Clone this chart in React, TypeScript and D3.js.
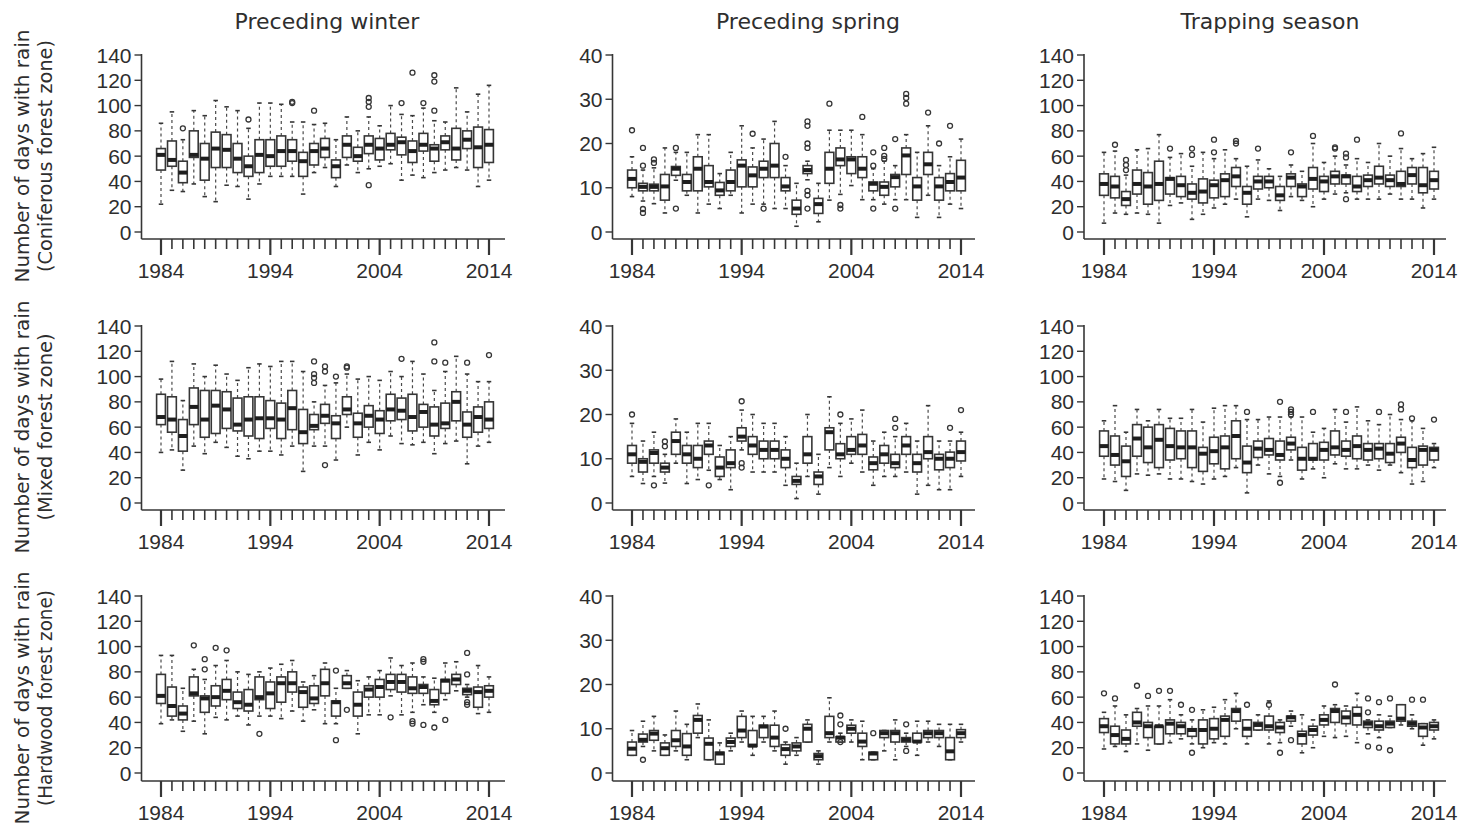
import React from 'react';
import * as d3 from 'd3';

// Box statistics per year: [lower whisker, Q1, median, Q3, upper whisker]
type Stat = [number, number, number, number, number];
// Outlying observations: [year, value]
type Outlier = [number, number];

const years = [
  1984, 1985, 1986, 1987, 1988, 1989, 1990, 1991, 1992, 1993, 1994,
  1995, 1996, 1997, 1998, 1999, 2000, 2001, 2002, 2003, 2004,
  2005, 2006, 2007, 2008, 2009, 2010, 2011, 2012, 2013, 2014,
];
const yearLabels = [1984, 1994, 2004, 2014];
const daysTicks = [0, 20, 40, 60, 80, 100, 120, 140];
const springTicks = [0, 10, 20, 30, 40];

const seasonTitles = ['Preceding winter', 'Preceding spring', 'Trapping season'];
const axisTitle = 'Number of days with rain';
const zoneNames = ['(Coniferous forest zone)', '(Mixed forest zone)', '(Hardwood forest zone)'];

// ---- Coniferous forest zone ----
const coniferousWinter: Stat[] = [
  [22, 49, 61, 66, 86], [33, 52, 57, 72, 95], [32, 39, 47, 56, 73], [38, 59, 61, 80, 96],
  [28, 41, 58, 70, 92], [24, 51, 66, 79, 104], [37, 51, 65, 77, 99], [36, 47, 58, 70, 96],
  [26, 44, 52, 60, 82], [38, 47, 61, 73, 102], [44, 52, 60, 73, 102], [44, 52, 64, 76, 101],
  [44, 56, 64, 73, 87], [30, 44, 56, 63, 87], [47, 53, 64, 70, 85], [51, 59, 66, 74, 86],
  [36, 43, 52, 57, 73], [53, 59, 69, 76, 91], [47, 56, 60, 67, 80], [50, 62, 69, 76, 91],
  [52, 57, 66, 74, 84], [54, 65, 69, 78, 100], [41, 61, 71, 75, 93], [45, 55, 64, 72, 92],
  [43, 64, 69, 78, 98], [47, 56, 66, 69, 88], [49, 65, 71, 76, 87], [51, 57, 66, 82, 114],
  [49, 66, 73, 80, 95], [36, 51, 67, 83, 109], [41, 55, 69, 81, 116],
];
const coniferousWinterOut: Outlier[] = [
  [1986, 82], [1992, 89], [1996, 102], [1996, 103], [1998, 96], [2003, 99], [2003, 103],
  [2003, 106], [2003, 37], [2006, 102], [2007, 126], [2008, 102], [2009, 96], [2009, 119],
  [2009, 124],
];
const coniferousSpring: Stat[] = [
  [8, 10, 12, 14, 17], [7, 9.3, 10.2, 11, 14], [6.4, 9.3, 10.2, 10.8, 14.5], [4.3, 7.2, 10.3, 13, 19],
  [11.7, 12.8, 14.3, 14.8, 18], [8.3, 9.3, 11.3, 13, 18], [4.3, 9.3, 14.3, 17, 22], [6.3, 10.2, 11.3, 15, 22],
  [5.3, 8.3, 9.4, 11.2, 13.2], [8.3, 9.3, 11.3, 14, 18], [4.3, 10.2, 15, 16.3, 24], [6.3, 10.2, 12.8, 14.7, 19],
  [6.3, 12.3, 14.3, 16, 21], [5.3, 12.3, 15, 20, 25], [5.3, 9.3, 10.3, 12.3, 15], [1.3, 4, 5.3, 7.2, 11],
  [11.8, 13.2, 14, 15, 16], [2.3, 4.2, 6.3, 7.6, 11], [7.2, 11, 14.3, 18, 23], [8.5, 15, 16.4, 19, 23],
  [10.5, 13.2, 16.4, 17, 23], [7.3, 12.3, 14.3, 17, 22], [7.3, 9.3, 10.9, 11.3, 14.3], [6.3, 8.3, 10.2, 11.3, 16],
  [7.3, 10.2, 12.4, 13, 15], [7.3, 13, 17.3, 19, 22], [3.3, 7.2, 10.3, 12.3, 18], [8.3, 13, 15.3, 18, 24],
  [3.3, 7.2, 10.3, 12.3, 15], [6.3, 9.3, 11.3, 13.2, 17], [5.3, 9.3, 12.3, 16.2, 21],
];
const coniferousSpringOut: Outlier[] = [
  [1984, 23], [1985, 4.3], [1985, 5.2], [1985, 15], [1985, 19], [1986, 15.6], [1986, 16.4],
  [1988, 5.3], [1988, 19], [1995, 22.2], [1996, 5.3], [1998, 17], [2000, 5.3], [2000, 8.3],
  [2000, 9.3], [2000, 19], [2000, 20], [2000, 24], [2000, 25], [2002, 29], [2003, 5.3],
  [2003, 6.1], [2005, 26], [2006, 5.3], [2006, 15], [2006, 18], [2007, 16.5], [2007, 17.2],
  [2007, 19], [2008, 5.3], [2008, 21], [2009, 29], [2009, 30.3], [2009, 31.2], [2011, 27],
  [2012, 20], [2013, 24],
];
const coniferousTrapping: Stat[] = [
  [7, 29, 38, 46, 63], [15, 27, 36, 44, 64], [14, 21, 26, 32, 45], [15, 30, 38, 49, 65],
  [14, 22, 36, 47, 66], [7, 25, 38, 56, 77], [21, 30, 42, 43, 59], [23, 28, 37, 44, 62],
  [10, 26, 31, 38, 52], [14, 23, 32, 42, 63], [19, 27, 37, 41, 58], [22, 28, 41, 46, 65],
  [26, 36, 44, 51, 58], [12, 22, 31, 36, 52], [26, 34, 40, 44, 57], [25, 35, 40, 44, 50],
  [17, 25, 29, 36, 44], [28, 36, 43, 46, 53], [25, 28, 36, 38, 48], [20, 34, 42, 51, 70],
  [26, 32, 40, 44, 55], [30, 38, 44, 48, 60], [31, 38, 44, 45, 53], [26, 32, 36, 44, 58],
  [26, 36, 41, 45, 55], [26, 38, 43, 52, 70], [30, 36, 41, 45, 60], [26, 36, 38, 48, 66],
  [26, 38, 45, 51, 58], [19, 31, 37, 51, 62], [26, 34, 41, 48, 67],
];
const coniferousTrappingOut: Outlier[] = [
  [1985, 69], [1986, 49], [1986, 53], [1986, 57], [1990, 66], [1992, 61], [1992, 66],
  [1994, 63], [1994, 73], [1996, 70], [1996, 72], [1998, 66], [2001, 63], [2003, 76],
  [2005, 66], [2005, 67], [2006, 26], [2006, 59], [2006, 62], [2007, 73], [2011, 78],
];

// ---- Mixed forest zone ----
const mixedWinter: Stat[] = [
  [40, 62, 68, 86, 98], [42, 56, 66, 84, 112], [26, 41, 53, 66, 81], [45, 62, 76, 91, 110],
  [39, 52, 66, 89, 100], [48, 55, 77, 89, 109], [44, 59, 74, 88, 102], [37, 57, 62, 83, 97],
  [35, 53, 66, 84, 107], [41, 51, 67, 84, 110], [41, 59, 67, 81, 108], [38, 51, 66, 79, 112],
  [45, 58, 75, 89, 112], [25, 47, 56, 74, 104], [45, 58, 61, 70, 80], [45, 63, 69, 78, 93],
  [34, 51, 63, 69, 95], [60, 70, 74, 84, 102], [38, 52, 63, 71, 98], [48, 60, 69, 77, 100],
  [42, 55, 66, 73, 97], [53, 65, 74, 86, 104], [47, 66, 73, 83, 100], [46, 57, 68, 86, 112],
  [48, 60, 72, 78, 102], [39, 53, 62, 76, 89], [47, 59, 63, 79, 104], [49, 65, 80, 88, 116],
  [31, 52, 62, 72, 102], [45, 56, 68, 76, 96], [48, 59, 66, 80, 96],
];
const mixedWinterOut: Outlier[] = [
  [1998, 95], [1998, 99], [1998, 102], [1998, 112], [1999, 104], [1999, 108], [1999, 30],
  [2000, 100], [2001, 107], [2001, 108], [2006, 114], [2009, 112], [2009, 127], [2010, 111],
  [2012, 111], [2014, 117],
];
const mixedSpring: Stat[] = [
  [6, 9, 11, 13, 18], [4.4, 7, 9.3, 10, 14], [6, 9, 11.3, 12, 16], [4.5, 7, 8, 9, 11],
  [9, 11, 14, 16, 19], [4.4, 9, 11, 13, 16], [5.3, 8, 10, 13, 18], [7.4, 11, 13, 14, 18],
  [5.3, 6, 8, 10.4, 13], [3, 8, 9, 12, 15], [12, 14, 15, 17, 21], [7, 11, 13, 15, 20],
  [7, 10, 12, 14, 18], [7, 10, 12, 14, 18], [4, 8, 10, 12, 15], [1, 4.2, 5, 6, 9],
  [6, 9, 11, 15, 20], [2, 4.2, 6, 7, 11], [8, 12, 16, 17, 24], [6, 10, 11, 13.4, 18],
  [9, 11, 12, 15, 19], [7, 11, 13, 15.5, 21], [4, 7.5, 9, 10.4, 14], [6, 9, 11, 13, 16],
  [6, 8, 9, 11, 15], [7, 11, 13, 15, 18], [2, 7, 9, 11, 14], [4, 10, 11.5, 15, 22],
  [3, 7.5, 10, 11, 14], [3, 8, 10, 11.5, 14], [6, 9.5, 11.5, 14, 16],
];
const mixedSpringOut: Outlier[] = [
  [1984, 20], [1986, 4], [1987, 12.8], [1987, 13.9], [1991, 4], [1994, 23], [1994, 8],
  [1994, 9], [2003, 20], [2008, 17], [2008, 19], [2013, 17], [2014, 21],
];
const mixedTrapping: Stat[] = [
  [19, 37, 45, 57, 65], [17, 30, 38, 53, 77], [10, 21, 33, 45, 56], [23, 37, 51, 62, 74],
  [22, 32, 44, 60, 65], [23, 28, 50, 62, 74], [19, 34, 45, 59, 67], [19, 35, 44, 57, 67],
  [17, 28, 44, 57, 74], [15, 25, 39, 44, 64], [19, 31, 41, 52, 75], [21, 27, 44, 53, 77],
  [28, 35, 53, 65, 77], [8, 24, 32, 45, 66], [30, 36, 43, 49, 66], [23, 38, 42, 51, 68],
  [21, 34, 38, 49, 68], [34, 42, 47, 52, 68], [19, 26, 35, 44, 68], [27, 34, 35, 47, 56],
  [20, 34, 42, 48, 59], [31, 38, 44, 57, 74], [27, 37, 42, 49, 64], [27, 35, 45, 53, 76],
  [30, 34, 42, 47, 65], [26, 35, 43, 47, 62], [30, 32, 39, 47, 70], [24, 40, 47, 52, 66],
  [15, 28, 34, 44, 65], [17, 30, 42, 45, 59], [28, 34, 42, 44, 47],
];
const mixedTrappingOut: Outlier[] = [
  [1997, 72], [2000, 80], [2000, 16], [2001, 70], [2001, 72], [2001, 74], [2003, 72],
  [2006, 72], [2009, 72], [2011, 74], [2011, 78], [2012, 67], [2014, 66],
];

// ---- Hardwood forest zone ----
const hardwoodWinter: Stat[] = [
  [39, 55, 61, 78, 93], [42, 45, 53, 68, 93], [33, 42, 47, 53, 67], [41, 61, 63, 76, 82],
  [31, 48, 59, 61, 74], [44, 53, 60, 69, 85], [42, 58, 65, 74, 89], [45, 51, 56, 64, 80],
  [38, 49, 54, 66, 78], [45, 58, 60, 76, 80], [45, 51, 63, 72, 83], [43, 56, 71, 76, 86],
  [49, 64, 71, 80, 89], [41, 52, 64, 68, 72], [50, 55, 59, 69, 77], [39, 61, 71, 82, 87],
  [39, 45, 56, 57, 67], [67, 67, 71, 77, 81], [31, 45, 54, 64, 73], [46, 60, 66, 69, 76],
  [46, 60, 68, 74, 81], [61, 66, 72, 78, 91], [46, 64, 72, 78, 85], [48, 63, 67, 76, 87],
  [54, 63, 68, 70, 76], [48, 54, 57, 66, 75], [58, 63, 73, 74, 87], [65, 70, 74, 78, 88],
  [60, 62, 65, 67, 70], [47, 52, 64, 68, 85], [48, 60, 65, 69, 76],
];
const hardwoodWinterOut: Outlier[] = [
  [1987, 101], [1988, 82], [1988, 90], [1989, 99], [1990, 97], [1993, 31], [2000, 81],
  [2000, 26], [2001, 50], [2005, 44], [2007, 39], [2007, 41], [2008, 88], [2008, 90],
  [2008, 38], [2009, 36], [2010, 42], [2012, 95], [2012, 78], [2012, 54], [2012, 56],
];
const hardwoodSpring: Stat[] = [
  [4, 4, 5.5, 7, 9.6], [6, 7, 7.5, 8.8, 11.7], [5, 7.4, 8.9, 9.6, 12.8], [4, 4, 5.6, 6.8, 8.6],
  [5, 6, 7.4, 9.6, 14], [3, 4, 6, 8.9, 11], [8, 9, 12, 13, 15.6], [3, 3, 6.6, 7.9, 12],
  [2, 2, 4.4, 4.7, 6.8], [5, 6, 7, 7.9, 9], [7, 8, 9.6, 12.8, 14], [4, 6, 6.2, 9.6, 12.8],
  [7, 8, 10.5, 10.8, 12.8], [5, 6, 8, 10.8, 14], [2, 4, 5.4, 6.4, 7], [4, 5, 6, 6.8, 8],
  [7, 7, 10, 11, 12], [2, 3, 3.8, 4.4, 5], [7, 8, 9, 12.8, 17], [7, 7, 8, 8.2, 9],
  [7, 9, 10, 10.8, 12], [3, 6, 7.1, 9, 11.7], [3, 3, 4.4, 4.7, 4.7], [5, 8, 9, 9.6, 9.6],
  [3, 7, 9, 9.6, 12], [6, 7, 7.5, 8, 9], [4, 7, 7.1, 9, 11.7], [7, 8, 9, 9.6, 11.7],
  [6, 8, 9, 9.6, 11], [3, 3, 4.9, 8, 11], [7, 8, 9, 9.8, 11],
];
const hardwoodSpringOut: Outlier[] = [
  [1985, 3], [1998, 10], [2003, 13], [2003, 11], [2003, 7], [2006, 9], [2009, 11], [2009, 5],
];
const hardwoodTrapping: Stat[] = [
  [19, 32, 37, 43, 48], [21, 23, 30, 37, 53], [17, 23, 27, 34, 46], [23, 37, 40, 48, 51],
  [18, 28, 37, 40, 53], [23, 23, 37, 37, 53], [24, 31, 39, 42, 58], [27, 31, 37, 40, 46],
  [23, 29, 34, 35, 42], [20, 23, 34, 42, 50], [24, 27, 35, 43, 52], [23, 29, 42, 45, 58],
  [35, 41, 49, 51, 63], [23, 29, 35, 42, 42], [34, 34, 38, 40, 46], [23, 34, 37, 45, 57],
  [24, 32, 36, 40, 42], [37, 41, 44, 45, 49], [16, 23, 30, 33, 46], [20, 30, 34, 37, 42],
  [29, 38, 42, 46, 53], [28, 40, 49, 51, 54], [29, 39, 44, 49, 53], [24, 38, 46, 52, 63],
  [31, 36, 39, 41, 42], [28, 34, 37, 41, 46], [36, 36, 39, 41, 45], [38, 41, 43, 54, 54],
  [35, 37, 39, 41, 46], [22, 29, 36, 39, 39], [27, 34, 37, 40, 42],
];
const hardwoodTrappingOut: Outlier[] = [
  [1984, 63], [1985, 59], [1987, 69], [1988, 61], [1989, 65], [1990, 65], [1991, 54],
  [1992, 50], [1992, 16], [1997, 54], [1999, 54], [2000, 16], [2001, 26], [2005, 70],
  [2008, 59], [2008, 48], [2008, 21], [2009, 56], [2009, 20], [2010, 59], [2010, 18],
  [2012, 58], [2013, 58],
];

// ---- layout ----
const WIDTH = 1460;
const HEIGHT = 830;
const INK = '#2e2e2e';
const LINE = '#363636';
const columns = [
  { axisX: 141.5, first: 161, last: 489, end: 505, titleX: 327 },
  { axisX: 612.5, first: 632, last: 961, end: 975, titleX: 808 },
  { axisX: 1084, first: 1104, last: 1434, end: 1446, titleX: 1270 },
];
const rows = [
  { zero: 232, top: 55, axisY: 239, mid: 156 },
  { zero: 503, top: 326, axisY: 510, mid: 427 },
  { zero: 773, top: 596, axisY: 781, mid: 698 },
];

type PanelProps = {
  stats: Stat[];
  outliers: Outlier[];
  ticks: number[];
  col: typeof columns[number];
  row: typeof rows[number];
};

function Panel({ stats, outliers, ticks, col, row }: PanelProps) {
  const x = d3.scalePoint<number>().domain(years).range([col.first, col.last]);
  const y = d3
    .scaleLinear()
    .domain([0, ticks[ticks.length - 1]])
    .range([row.zero, row.top]);
  const boxW = 8.8;
  const capW = 4.5;
  const tickFont = { fontFamily: 'Arial, "Liberation Sans", sans-serif', fill: INK };

  return (
    <g>
      {/* axes */}
      <line x1={col.axisX} x2={col.axisX} y1={row.top - 1} y2={row.axisY} stroke={LINE} strokeWidth={1.6} />
      <line x1={col.axisX} x2={col.end} y1={row.axisY} y2={row.axisY} stroke={LINE} strokeWidth={1.6} />
      {ticks.map((t) => (
        <g key={`yt${t}`}>
          <line x1={col.axisX - 7} x2={col.axisX} y1={y(t)} y2={y(t)} stroke={LINE} strokeWidth={1.4} />
          <text x={col.axisX - 10} y={y(t)} dy="0.36em" textAnchor="end" fontSize={21} {...tickFont}>
            {t}
          </text>
        </g>
      ))}
      {years.map((yr) => {
        const major = yearLabels.includes(yr);
        return (
          <line
            key={`xt${yr}`}
            x1={x(yr)}
            x2={x(yr)}
            y1={row.axisY}
            y2={row.axisY + (major ? 16 : 10)}
            stroke={LINE}
            strokeWidth={major ? 2.2 : 1.6}
          />
        );
      })}
      {yearLabels.map((yr) => (
        <text key={`xl${yr}`} x={x(yr)} y={row.axisY + 39} textAnchor="middle" fontSize={21} {...tickFont}>
          {yr}
        </text>
      ))}

      {/* boxes */}
      {stats.map(([lo, q1, med, q3, hi], i) => {
        const cx = x(years[i]) as number;
        return (
          <g key={`b${i}`}>
            <line x1={cx} x2={cx} y1={y(q3)} y2={y(hi)} stroke="#4a4a4a" strokeWidth={1.2} strokeDasharray="3,3" />
            <line x1={cx} x2={cx} y1={y(q1)} y2={y(lo)} stroke="#4a4a4a" strokeWidth={1.2} strokeDasharray="3,3" />
            <line x1={cx - capW / 2} x2={cx + capW / 2} y1={y(hi)} y2={y(hi)} stroke={LINE} strokeWidth={1.6} />
            <line x1={cx - capW / 2} x2={cx + capW / 2} y1={y(lo)} y2={y(lo)} stroke={LINE} strokeWidth={1.6} />
            <rect
              x={cx - boxW / 2}
              y={y(q3)}
              width={boxW}
              height={Math.max(y(q1) - y(q3), 0.5)}
              fill="#fff"
              stroke={LINE}
              strokeWidth={1.6}
            />
            <line x1={cx - boxW / 2} x2={cx + boxW / 2} y1={y(med)} y2={y(med)} stroke="#1e1e1e" strokeWidth={4} />
          </g>
        );
      })}
      {outliers.map(([yr, v], i) => (
        <circle key={`o${i}`} cx={x(yr)} cy={y(v)} r={2.5} fill="none" stroke={LINE} strokeWidth={1.3} />
      ))}
    </g>
  );
}

const panels: { stats: Stat[]; outliers: Outlier[]; ticks: number[] }[][] = [
  [
    { stats: coniferousWinter, outliers: coniferousWinterOut, ticks: daysTicks },
    { stats: coniferousSpring, outliers: coniferousSpringOut, ticks: springTicks },
    { stats: coniferousTrapping, outliers: coniferousTrappingOut, ticks: daysTicks },
  ],
  [
    { stats: mixedWinter, outliers: mixedWinterOut, ticks: daysTicks },
    { stats: mixedSpring, outliers: mixedSpringOut, ticks: springTicks },
    { stats: mixedTrapping, outliers: mixedTrappingOut, ticks: daysTicks },
  ],
  [
    { stats: hardwoodWinter, outliers: hardwoodWinterOut, ticks: daysTicks },
    { stats: hardwoodSpring, outliers: hardwoodSpringOut, ticks: springTicks },
    { stats: hardwoodTrapping, outliers: hardwoodTrappingOut, ticks: daysTicks },
  ],
];

export default function App() {
  const titleFont = '"DejaVu Sans", Verdana, sans-serif';
  return (
    <div style={{ position: 'absolute', left: 0, top: 0 }}>
      <svg width={WIDTH} height={HEIGHT} style={{ display: 'block', background: '#fff' }}>
        {seasonTitles.map((t, c) => (
          <text key={t} x={columns[c].titleX} y={29} textAnchor="middle" fontSize={22} fontFamily={titleFont} fill={INK}>
            {t}
          </text>
        ))}
        {rows.map((r, ri) => (
          <g key={`yl${ri}`}>
            <text
              transform={`translate(29,${r.mid}) rotate(-90)`}
              textAnchor="middle"
              fontSize={19}
              fontFamily={titleFont}
              fill={INK}
              textLength={253}
              lengthAdjust="spacingAndGlyphs"
            >
              {axisTitle}
            </text>
            <text
              transform={`translate(52,${r.mid}) rotate(-90)`}
              textAnchor="middle"
              fontSize={19}
              fontFamily={titleFont}
              fill={INK}
              textLength={ri === 0 ? 232 : ri === 1 ? 187 : 216}
              lengthAdjust="spacingAndGlyphs"
            >
              {zoneNames[ri]}
            </text>
          </g>
        ))}
        {panels.map((rowPanels, ri) =>
          rowPanels.map((p, ci) => (
            <Panel key={`p${ri}${ci}`} stats={p.stats} outliers={p.outliers} ticks={p.ticks} col={columns[ci]} row={rows[ri]} />
          ))
        )}
      </svg>
    </div>
  );
}
